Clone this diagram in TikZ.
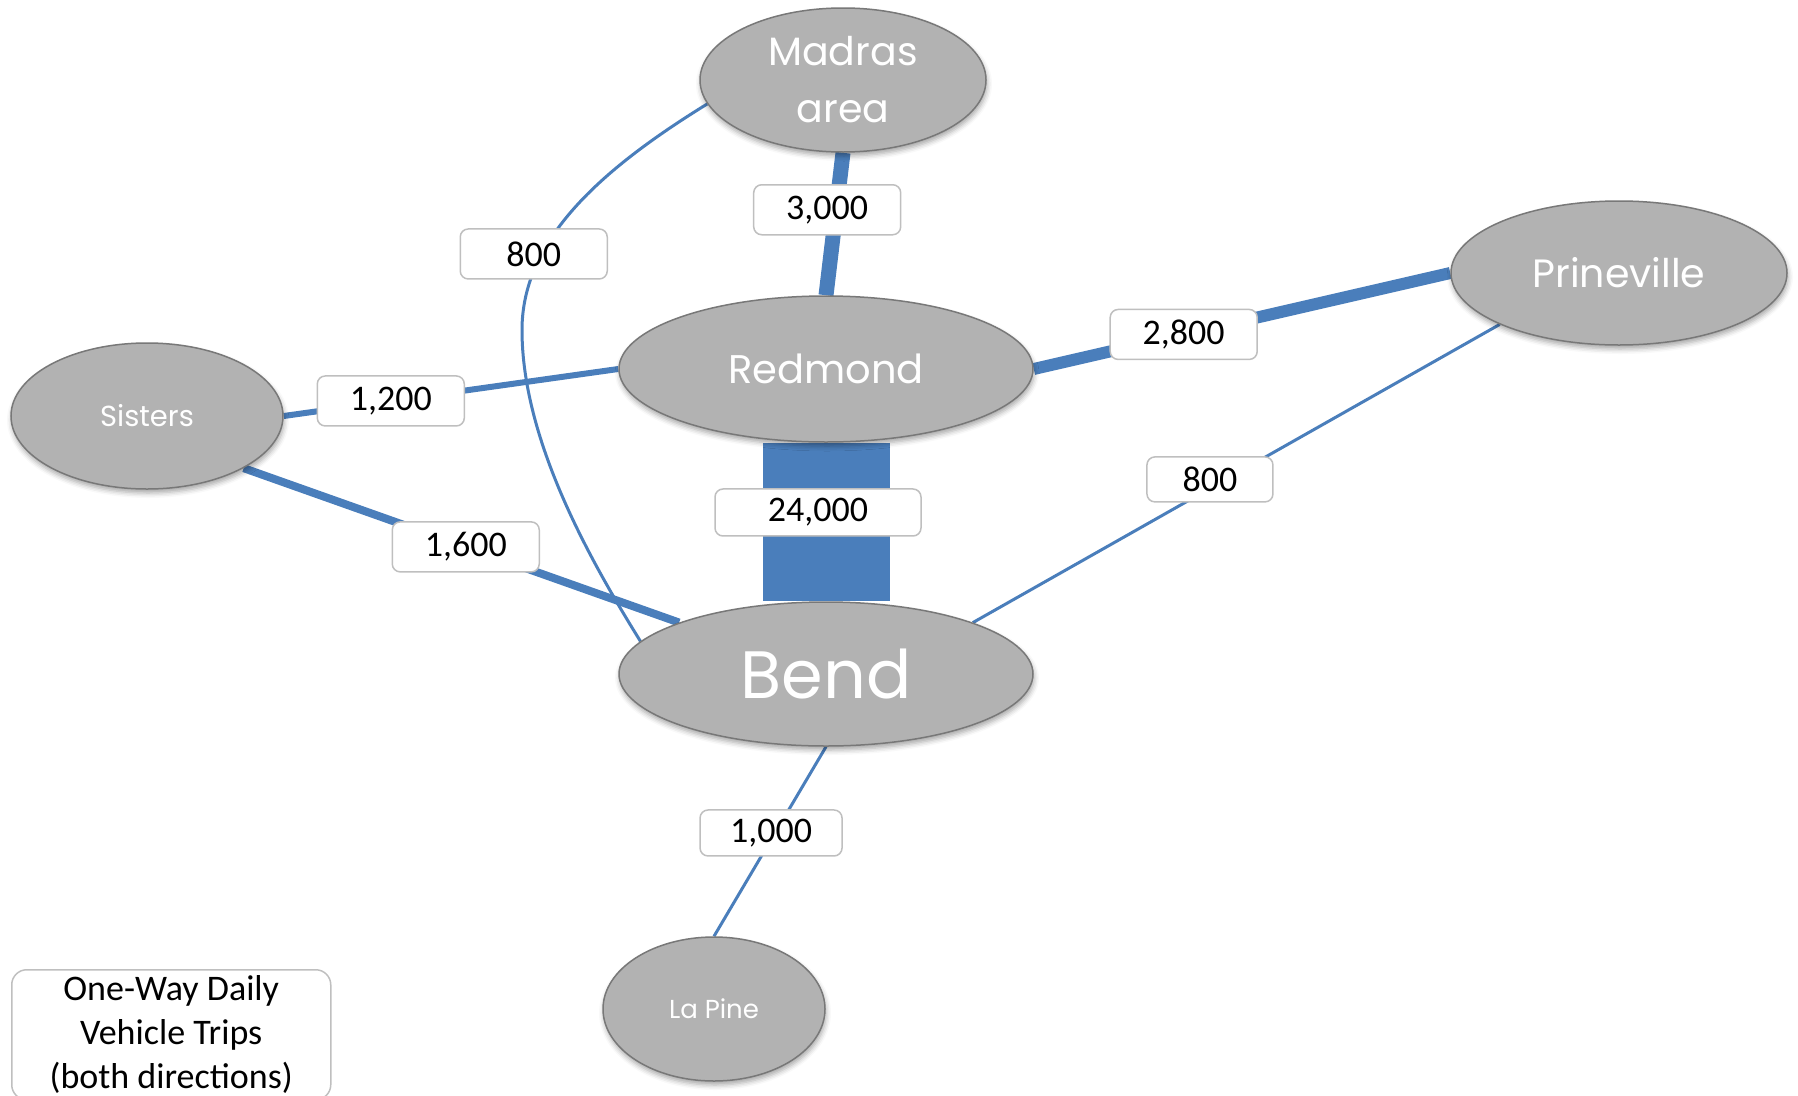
\documentclass[tikz,border=0pt]{standalone}
\usepackage{fontspec}
\setmainfont{Carlito}
\newfontfamily\cityfont{Poppins}
\usetikzlibrary{shapes.geometric,shadows.blur}
\definecolor{tripblue}{RGB}{74,126,187}
\definecolor{citygray}{RGB}{178,178,178}
\definecolor{cityrim}{RGB}{120,120,120}
\pgfdeclarelayer{background}
\pgfsetlayers{background,main}

\begin{document}
\begin{tikzpicture}[x=1pt,y=-1pt,
  city/.style={ellipse, fill=citygray, draw=cityrim, line width=1.5pt, text=white, inner sep=0pt,
    blur shadow={shadow xshift=1pt, shadow yshift=-4pt, shadow blur radius=5pt, shadow opacity=35}},
  trips/.style={draw=black!25, line width=1.5pt, rounded corners=8pt, fill=white,
    font=\fontsize{36}{40}\selectfont, minimum width=147pt, minimum height=50pt, inner sep=0pt},
  trip/.style={draw=tripblue, line width=#1}]
\useasboundingbox (0,0) rectangle (1798,1095);
% towns
\node[city, minimum width=286pt, minimum height=144pt, align=center,
  font=\cityfont\fontsize{39.5}{57}\selectfont] (madras) at (843,80) {Madras\\area};
\node[city, minimum width=414pt, minimum height=146pt,
  font=\cityfont\fontsize{40}{50}\selectfont] (redmond) at (826,369) {Redmond};
\node[city, minimum width=336pt, minimum height=144pt,
  font=\cityfont\fontsize{39.5}{50}\selectfont] (prineville) at (1619,273) {Prineville};
\node[city, minimum width=272pt, minimum height=146pt,
  font=\cityfont\fontsize{29}{36}\selectfont] (sisters) at (147,416) {Sisters};
\node[city, minimum width=414pt, minimum height=144pt,
  font=\cityfont\fontsize{67}{80}\selectfont] (bend) at (826,674) {Bend};
\node[city, minimum width=222pt, minimum height=144pt,
  font=\cityfont\fontsize{26}{30}\selectfont] (lapine) at (714,1009) {La Pine};
% trips
\begin{pgfonlayer}{background}
\draw[trip=3pt] (madras.190) .. controls (600,170) and (522,240) .. (522,330)
  node[trips, pos=0.7, xshift=-8pt] (madbend) {800}
  .. controls (522,440) and (590,560) .. (bend.170);
\draw[trip=15pt] (madras.south) -- node[trips, pos=0.4, xshift=-9pt] (madred) {3,000} (redmond.north);
\draw[trip=127pt] (redmond.south) -- node[trips, pos=0.44, xshift=-8pt,
  minimum width=206pt, minimum height=47pt] (redbend) {24,000} (bend.north);
\draw[trip=12pt] (redmond.east) -- node[trips, pos=0.36] (redprine) {2,800} (prineville.west);
\draw[trip=6pt] (sisters.east) -- node[trips, pos=0.32] (sisred) {1,200} (redmond.west);
\draw[trip=8pt] (sisters.south east) -- node[trips, pos=0.51] (sisbend) {1,600} (bend.north west);
\draw[trip=3pt] (prineville.south west) -- node[trips, pos=0.55, yshift=9pt,
  minimum width=126pt, minimum height=45pt] (prinebend) {800} (bend.north east);
\draw[trip=3pt] (bend.south) -- node[trips, pos=0.455, xshift=-4pt,
  minimum width=142pt, minimum height=46pt] (bendpine) {1,000} (lapine.north);
\end{pgfonlayer}
% legend
\node[draw=black!25, line width=1.5pt, rounded corners=15pt, minimum width=319pt,
  align=center, inner ysep=6pt, anchor=north west, font=\fontsize{36}{44}\selectfont]
  (legend) at (11,969) {One-Way Daily\\Vehicle Trips\\(both directions)};
\end{tikzpicture}
\end{document}
